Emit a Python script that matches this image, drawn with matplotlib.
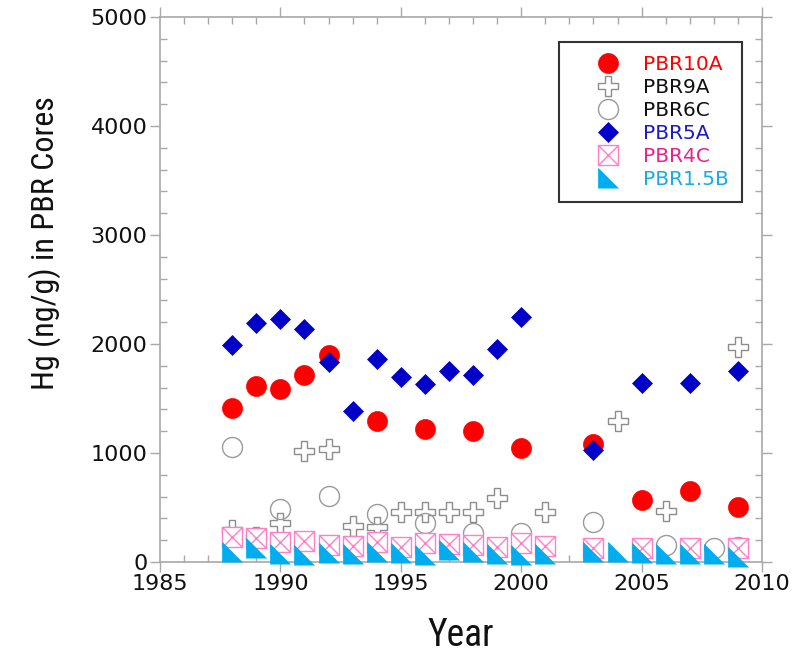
import matplotlib
matplotlib.use("Agg")
import matplotlib.pyplot as plt
from matplotlib.path import Path
from matplotlib.lines import Line2D
from matplotlib.ticker import MultipleLocator
from matplotlib import font_manager

# Hg concentrations (ng/g) in sediment cores, by year
years_10a = [1988, 1989, 1990, 1991, 1992, 1994, 1996, 1998, 2000, 2003, 2005, 2007, 2009]
hg_10a = [1410, 1617, 1587, 1720, 1900, 1290, 1220, 1202, 1050, 1083, 569, 654, 507]

years_9a = [1988, 1989, 1990, 1991, 1992, 1993, 1994, 1995, 1996, 1997, 1998, 1999, 2001, 2004, 2006, 2009]
hg_9a = [290, 230, 355, 1020, 1040, 330, 325, 460, 460, 460, 460, 585, 455, 1290, 470, 1975]

years_6c = [1988, 1990, 1992, 1994, 1996, 1998, 2000, 2003, 2006, 2008, 2009]
hg_6c = [1058, 490, 605, 440, 361, 265, 270, 370, 156, 126, 140]

years_5a = [1988, 1989, 1990, 1991, 1992, 1993, 1994, 1995, 1996, 1997, 1998, 1999, 2000, 2003, 2005, 2007, 2009]
hg_5a = [1991, 2190, 2229, 2135, 1832, 1385, 1860, 1694, 1633, 1752, 1716, 1951, 2245, 1028, 1639, 1639, 1752]

years_4c = [1988, 1989, 1990, 1991, 1992, 1993, 1994, 1995, 1996, 1997, 1998, 1999, 2000, 2001, 2003, 2005, 2007, 2009]
hg_4c = [230, 220, 180, 190, 160, 150, 185, 140, 171, 162, 156, 140, 171, 147, 125, 125, 125, 125]

years_15b = [1988, 1989, 1990, 1991, 1992, 1993, 1994, 1995, 1996, 1997, 1998, 1999, 2000, 2001,
             2003, 2004, 2005, 2006, 2007, 2008, 2009]
hg_15b = [90, 128, 73, 60, 87, 73, 92, 80, 60, 110, 92, 73, 67, 73,
          95, 92, 80, 71, 73, 73, 49]

labels = ["PBR10A", "PBR9A", "PBR6C", "PBR5A", "PBR4C", "PBR1.5B"]
label_colors = ["#FF0000", "#111111", "#111111", "#1A1AC8", "#E8248C", "#1AACE6"]


def pick_font(candidates):
    names = {f.name for f in font_manager.fontManager.ttflist}
    for c in candidates:
        if c in names:
            return c
    return "DejaVu Sans"


title_font = pick_font(["Liberation Sans Narrow", "Roboto Condensed", "Liberation Sans"])
plt.rcParams["font.family"] = ["DejaVu Sans"]

# square with diagonal cross
box_x = Path(
    [(-1, -1), (1, -1), (1, 1), (-1, 1), (-1, -1), (-1, -1), (1, 1), (-1, 1), (1, -1)],
    [Path.MOVETO, Path.LINETO, Path.LINETO, Path.LINETO, Path.CLOSEPOLY,
     Path.MOVETO, Path.LINETO, Path.MOVETO, Path.LINETO],
)
# right triangle, right angle at lower left
corner_tri = [(-1, -1), (-1, 1), (1, -1)]

styles = [
    dict(marker="o", markersize=14.4, markerfacecolor="#FF0000", markeredgecolor="#FF0000", markeredgewidth=0.5),
    dict(marker="P", markersize=14.4, markerfacecolor="white", markeredgecolor="#8C8C8C", markeredgewidth=1.0),
    dict(marker="o", markersize=14.4, markerfacecolor="none", markeredgecolor="#9A9A9A", markeredgewidth=1.0),
    dict(marker="D", markersize=10.2, markerfacecolor="#0000C8", markeredgecolor="#0000C8", markeredgewidth=0.5),
    dict(marker=box_x, markersize=14.4, markerfacecolor="white", markeredgecolor="#FF80C8", markeredgewidth=1.0),
    dict(marker=corner_tri, markersize=14.4, markerfacecolor="#00AEEF", markeredgecolor="#00AEEF", markeredgewidth=0.5),
]
series = [(years_10a, hg_10a), (years_9a, hg_9a), (years_6c, hg_6c),
          (years_5a, hg_5a), (years_4c, hg_4c), (years_15b, hg_15b)]

fig = plt.figure(figsize=(7.98, 6.59), dpi=100)
ax = fig.add_axes([160 / 798, 1 - 562 / 659, 602 / 798, 545 / 659])

for i, ((xs, ys), st) in enumerate(zip(series, styles)):
    ax.plot(xs, ys, linestyle="none", zorder=3 + 0.1 * i, clip_on=False, **st)

ax.set_xlim(1985, 2010)
ax.set_ylim(0, 5000)
ax.xaxis.set_major_locator(MultipleLocator(5))
ax.xaxis.set_minor_locator(MultipleLocator(1))
ax.yaxis.set_major_locator(MultipleLocator(1000))
ax.yaxis.set_minor_locator(MultipleLocator(200))

spine_color = "#A8A8A8"
for sp in ax.spines.values():
    sp.set_color(spine_color)
    sp.set_linewidth(1.2)
ax.tick_params(which="major", direction="out", length=7, width=1.0, color=spine_color,
               top=True, right=True, labeltop=False, labelright=False,
               labelsize=16, labelcolor="#111111", pad=2)
ax.tick_params(which="minor", direction="in", length=5, width=1.0, color=spine_color,
               top=True, right=True)

ax.set_xlabel("Year", fontsize=27, family=title_font, color="#111111")
ax.xaxis.set_label_coords(0.5, -(635 - 562) / 545)
ax.xaxis.label.set_va("center")
ax.set_ylabel("Hg (ng/g) in PBR Cores", fontsize=23, family=title_font, color="#111111")
ax.yaxis.label.set_va("center")
ax.yaxis.set_label_coords(-(160 - 45) / 602, (562 - 243) / 545)

handles = [Line2D([], [], linestyle="none", **st) for st in styles]
leg = ax.legend(handles, labels, loc="upper right",
                bbox_to_anchor=((741.7 - 160) / 602, (562 - 41.7) / 545),
                borderaxespad=0, frameon=True, fancybox=False, framealpha=1,
                edgecolor="#333333", borderpad=0.65, handlelength=3.5,
                handletextpad=0.0, labelspacing=0.2, fontsize=14.5,
                labelcolor=label_colors)
leg.get_frame().set_linewidth(1.5)
leg.set_zorder(10)

fig.savefig("out.png", dpi=100)
